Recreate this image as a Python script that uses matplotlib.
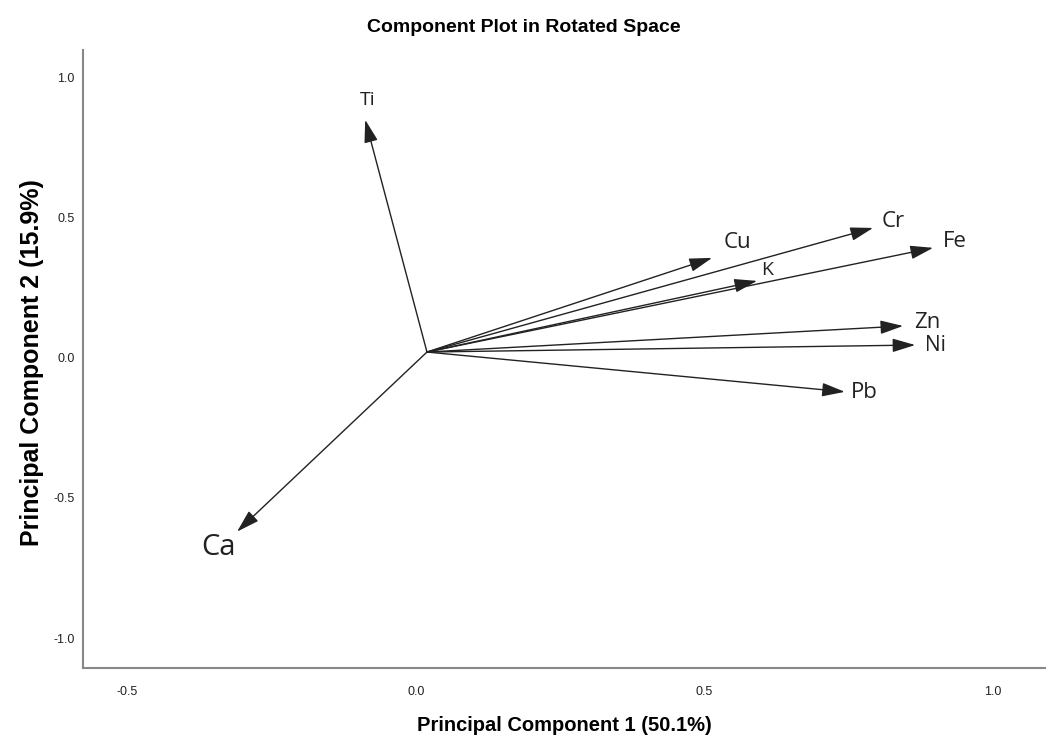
import numpy as np
import matplotlib.pyplot as plt

# Нагрузки компонент (PC1, PC2) для элементов
elements = ['Ti', 'Ca', 'Cu', 'Cr', 'Fe', 'K', 'Zn', 'Ni', 'Pb']
pc1 = [-0.088, -0.31, 0.513, 0.792, 0.896, 0.591, 0.844, 0.865, 0.743]
pc2 = [0.85, -0.62, 0.357, 0.464, 0.393, 0.275, 0.114, 0.046, -0.121]
origin = (0.019, 0.021)

# Смещения подписей относительно концов стрелок (пиксели)
label_dx = [2, -19, 25, 20, 22, 10, 24, 20, 20]
label_dy = [20, -16, 15, 6, 6, 11, 3, 0, -1]
label_size = [14, 21, 16, 16, 16, 14, 16, 15, 16]

xticks = [-0.5, 0.0, 0.5, 1.0]
yticks = [-1.0, -0.5, 0.0, 0.5, 1.0]

fig = plt.figure(figsize=(10.48, 7.54), dpi=100)
ax = fig.add_axes([0.0792, 0.114, 0.918, 0.82])

for i, name in enumerate(elements):
    ax.annotate('', xy=(pc1[i], pc2[i]), xytext=origin,
                arrowprops=dict(arrowstyle='-|>,head_length=1.0,head_width=0.3',
                                color='#222222', lw=1.0, shrinkA=0, shrinkB=0,
                                mutation_scale=14))
    ax.annotate(name, xy=(pc1[i], pc2[i]), xytext=(label_dx[i], label_dy[i]),
                textcoords='offset pixels', ha='center', va='center',
                fontsize=label_size[i], color='#222222', family='Open Sans')

ax.set_xlim(-0.577, 1.09)
ax.set_ylim(-1.107, 1.1)
ax.set_xticks(xticks)
ax.set_yticks(yticks)
ax.set_xticklabels(['%.1f' % v for v in xticks], fontsize=9, family='Liberation Sans')
ax.set_yticklabels(['%.1f' % v for v in yticks], fontsize=9, family='Liberation Sans')
ax.tick_params(length=0, colors='#222222')
ax.tick_params(axis='x', pad=13)
ax.tick_params(axis='y', pad=6)

for s in ['top', 'right']:
    ax.spines[s].set_visible(False)
for s in ['left', 'bottom']:
    ax.spines[s].set_color('#888888')
    ax.spines[s].set_linewidth(1.5)

fig.text(0.5, 0.964, 'Component Plot in Rotated Space', ha='center', va='center',
         fontsize=14, fontweight='bold', family='Liberation Sans')
fig.text(0.539, 0.038, 'Principal Component 1 (50.1%)', ha='center', va='center',
         fontsize=14.5, fontweight='bold', family='Liberation Sans')
fig.text(0.031, 0.519, 'Principal Component 2 (15.9%)', ha='center', va='center',
         rotation=90, fontsize=18, fontweight='bold', family='Liberation Sans')

fig.savefig('out.png', dpi=100)
